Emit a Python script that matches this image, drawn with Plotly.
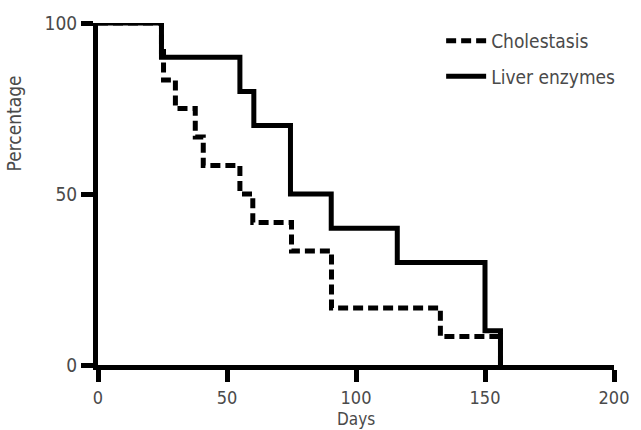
import plotly.graph_objects as go

# Data
chol_days = [0, 24.6, 25.4, 30, 37.7, 40.8, 55, 60, 75, 90.5, 132.7, 156]
chol_pct = [100, 91.7, 83.3, 75, 66.7, 58.3, 50, 41.7, 33.3, 16.7, 8.3, 0]
liver_days = [0, 24.6, 55, 60.4, 74.6, 90.4, 116, 150, 156]
liver_pct = [100, 90, 80, 70, 50, 40, 30, 10, 0]
x_ticks = [0, 50, 100, 150, 200]
y_ticks = [0, 50, 100]

FONT = "DejaVu Sans Condensed, Liberation Sans Narrow, Roboto, sans-serif"
TXT = "#4a4a4a"
FS = 19

fig = go.Figure()
fig.add_trace(go.Scatter(x=chol_days, y=chol_pct, mode="lines", name="Cholestasis",
                         line=dict(color="black", width=5, dash="10px,5px", shape="hv"),
                         legend="legend", showlegend=True))
fig.add_trace(go.Scatter(x=liver_days, y=liver_pct, mode="lines", name="Liver enzymes",
                         line=dict(color="black", width=5, shape="hv"),
                         legend="legend2", showlegend=True))

axis_common = dict(showgrid=False, zeroline=False, showline=True, linecolor="black",
                   linewidth=5, ticks="outside", ticklen=12, tickwidth=5, tickcolor="black")

legend_common = dict(xanchor="left", yanchor="middle",
                     font=dict(family=FONT, size=FS, color=TXT),
                     bgcolor="rgba(0,0,0,0)", itemwidth=40)

fig.update_layout(
    width=641, height=430,
    margin=dict(l=98, r=23, t=19, b=65),
    plot_bgcolor="white", paper_bgcolor="white",
    showlegend=True,
    font=dict(family=FONT, color=TXT),
    xaxis=dict(range=[0, 200], tickvals=x_ticks,
               tickfont=dict(family=FONT, size=18, color=TXT), **axis_common),
    yaxis=dict(range=[0, 100], tickvals=y_ticks,
               tickfont=dict(family=FONT, size=FS, color=TXT), **axis_common),
    legend=dict(x=0.665, y=0.948, **legend_common),
    legend2=dict(x=0.665, y=0.844, **legend_common),
    annotations=[
        dict(text="Percentage", textangle=-90, xref="paper", yref="paper",
             x=-0.163, y=0.706, xanchor="center", yanchor="middle", showarrow=False,
             font=dict(family=FONT, size=FS, color=TXT)),
        dict(text="Days", xref="paper", yref="paper", x=0.5, y=-0.157,
             xanchor="center", yanchor="middle", showarrow=False,
             font=dict(family=FONT, size=17, color=TXT)),
    ],
)

fig.write_html("out.html")
